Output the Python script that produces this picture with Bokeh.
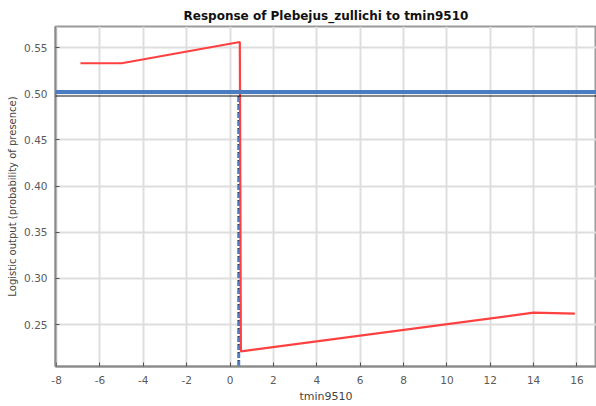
from bokeh.plotting import figure
from bokeh.models import Range1d, FixedTicker, PrintfTickFormatter, Span
from bokeh.embed import file_html
from bokeh.resources import INLINE

# Data
resp_x = [-6.9, -5.0, 0.45, 0.5, 14.0, 15.9]
resp_y = [0.533, 0.533, 0.556, 0.221, 0.263, 0.262]

threshold_blue_y = 0.502
threshold_dot_y = 0.4975
cut_x = 0.4
cut_top_y = 0.4975

x_ticks = [-8, -6, -4, -2, 0, 2, 4, 6, 8, 10, 12, 14, 16]
y_ticks = [0.25, 0.30, 0.35, 0.40, 0.45, 0.50, 0.55]

x_lo, x_hi = -8.05, 16.9
y_lo, y_hi = 0.2047, 0.5728

FONT = "DejaVu Sans"

p = figure(width=596, height=406, output_backend="svg", toolbar_location=None,
           x_range=Range1d(x_lo, x_hi), y_range=Range1d(y_lo, y_hi),
           title="Response of Plebejus_zullichi to tmin9510",
           min_border_left=55, min_border_right=0, min_border_top=26, min_border_bottom=40)

p.title.align = "center"
p.title.text_font = FONT
p.title.text_font_size = "12px"
p.title.text_font_style = "bold"
p.title.text_color = "#111111"
p.title.offset = 0
p.title.standoff = 7

p.background_fill_color = "white"
p.border_fill_color = "white"
p.outline_line_color = "#9a9a9a"
p.outline_line_width = 2

for ax in (p.xaxis[0], p.yaxis[0]):
    ax.axis_line_color = "#8a8a8a"
    ax.axis_line_width = 2
    ax.major_tick_in = 4
    ax.major_tick_out = 0
    ax.major_tick_line_color = "#555555"
    ax.minor_tick_line_color = None
    ax.major_label_text_font = FONT
    ax.major_label_text_font_size = "10.5px"
    ax.major_label_text_color = "#5a5a5a"
    ax.axis_label_text_font = FONT
    ax.axis_label_text_font_style = "normal"
    ax.axis_label_text_color = "#444444"

p.xaxis.ticker = FixedTicker(ticks=x_ticks)
p.yaxis.ticker = FixedTicker(ticks=y_ticks)
p.xaxis.formatter = PrintfTickFormatter(format="%d")
p.yaxis.formatter = PrintfTickFormatter(format="%.2f")
p.xaxis.major_label_standoff = 9
p.yaxis.major_label_standoff = 8
p.xaxis.axis_label = "tmin9510"
p.xaxis.axis_label_text_font_size = "11px"
p.xaxis.axis_label_standoff = 3
p.yaxis.axis_label = "Logistic output (probability of presence)"
p.yaxis.axis_label_text_font_size = "10px"
p.yaxis.axis_label_standoff = 3

p.grid.grid_line_color = "#dedede"
p.grid.grid_line_width = 2

# threshold lines
p.add_layout(Span(location=threshold_blue_y, dimension="width",
                  line_color="#4a7cc4", line_width=4))
p.add_layout(Span(location=threshold_dot_y, dimension="width",
                  line_color="#111111", line_width=2, line_dash="1 1"))

# vertical cut line
p.segment(x0=[cut_x], y0=[cut_top_y], x1=[cut_x], y1=[y_lo],
          line_color="#4a7cc4", line_width=3, line_dash="6 2")
p.segment(x0=[cut_x], y0=[cut_top_y], x1=[cut_x], y1=[y_lo],
          line_color="#222222", line_width=1, line_dash="1 7")

# response curve
p.line(resp_x, resp_y, line_color="#ff4040", line_width=2.2)

open("out.html", "w").write(file_html(p, INLINE))
